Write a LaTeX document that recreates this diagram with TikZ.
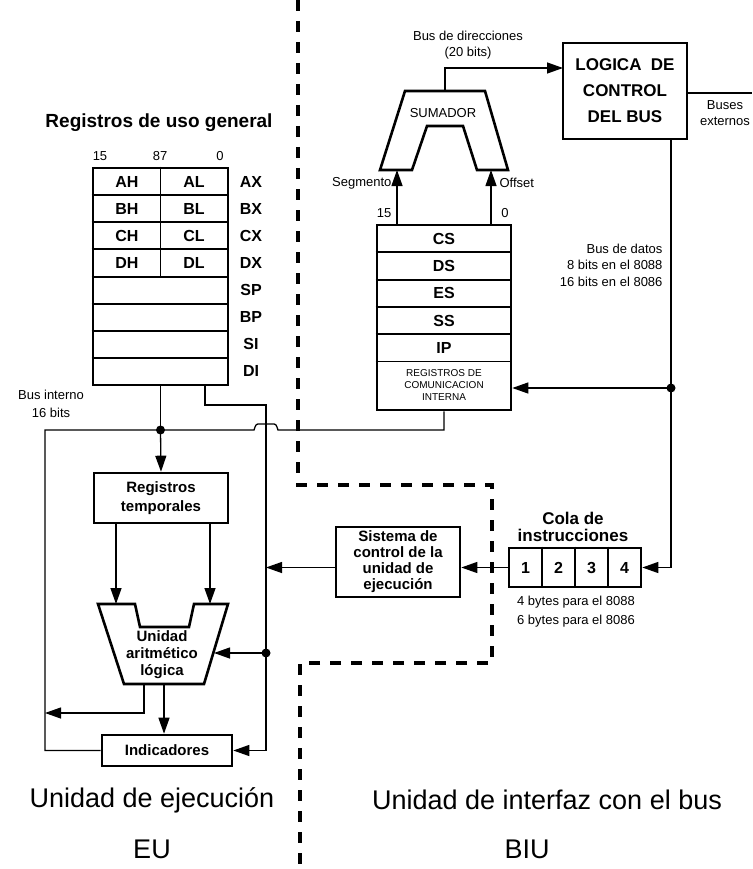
\documentclass[tikz,border=0pt]{standalone}
\usepackage{fontspec}
\setmainfont{Liberation Sans}
\usetikzlibrary{calc, arrows.meta, positioning}

\tikzset{
    bus/.style={line width=1.3pt},
    arr/.style={bus, -{Triangle[length=16pt,width=11pt]}},
    unitbox/.style={draw, line width=2.6pt, inner sep=0pt, align=center},
    rowline/.style={line width=1.8pt},
    divider/.style={line width=3.6pt, dash pattern=on 11pt off 10pt},
    junction/.style={circle, fill, inner sep=0pt, minimum size=9pt},
    small/.style={font=\fontsize{13}{16}\selectfont, align=center},
    heavy/.style={font=\bfseries\fontsize{15}{17}\selectfont, align=center},
    regname/.style={font=\bfseries\fontsize{16}{16}\selectfont},
    title/.style={font=\fontsize{27}{30}\selectfont},
}

\begin{document}
\begin{tikzpicture}[x=1pt, y=-1pt]
            \useasboundingbox (0,0) rectangle (752,869);

            \draw[divider] (298,0) -- (298,485) -- (492,485) -- (492,663) -- (300,663) -- (300,869);

            \node[font=\bfseries\fontsize{19}{20}\selectfont] (gprtitle) at (159,123) {Registros de uso general};
            \node[small] (bitH) at (100,156) {15};
            \node[small] (bitM) at (160,156) {87};
            \node[small] (bitL) at (220,156) {0};
            \node[draw, line width=2.6pt, minimum width=135pt, minimum height=217pt, inner sep=0pt] (gpr) at (160.5,276.5) {};
            \foreach \y in {195,222,249,277,304,331,358}
                \draw[rowline] (gpr.west |- 0,\y) -- (gpr.east |- 0,\y);
            \draw[rowline] (gpr.north) -- (gpr.north |- 0,277);
            \foreach \hi/\lo/\reg [count=\i] in {AH/AL/AX, BH/BL/BX, CH/CL/CX, DH/DL/DX} {
                \node[regname] (\hi) at (127,154.4+27.125*\i) {\hi};
                \node[regname] (\lo) at (194,154.4+27.125*\i) {\lo};
                \node[regname] (\reg) at (251,154.4+27.125*\i) {\reg};
            }
            \foreach \reg [count=\i from 5] in {SP,BP,SI,DI}
                \node[regname] (\reg) at (251,154.4+27.125*\i) {\reg};
            \node[font=\fontsize{13}{18}\selectfont, align=center] (intlbl) at (51,404) {Bus interno\\16 bits};

            \node[draw, line width=2.6pt, minimum width=134pt, minimum height=185pt, inner sep=0pt] (seg) at (444,317.5) {};
            \foreach \y in {252.3,279.6,306.9,334.2,361.5}
                \draw[rowline] (seg.west |- 0,\y) -- (seg.east |- 0,\y);
            \foreach \sreg [count=\i] in {CS,DS,ES,SS,IP}
                \node[regname] (\sreg) at (444,211.35+27.3*\i) {\sreg};
            \node[font=\fontsize{10}{12}\selectfont, align=center] (commlbl) at (444,385) {REGISTROS DE\\COMUNICACION\\INTERNA};

            \draw[line width=2.6pt] (405,91) -- (485,91) -- (508,170) -- (477,170) -- (463,126) -- (427,126) -- (412,170) -- (380,170) -- cycle;
            \node[small] (sum) at (443,113) {SUMADOR};
            \coordinate (sumT) at (445,91);
            \coordinate (segin) at (397,170);
            \coordinate (offin) at (491,170);
            \draw[arr] (seg.north -| segin) -- (segin);
            \draw[arr] (seg.north -| offin) -- (offin);
            \node[small, anchor=east] (seglbl) at (395,183) {Segmento};
            \node[small, anchor=west] (offlbl) at (496,183) {Offset};
            \node[small] (segbitH) at (384,213) {15};
            \node[small] (segbitL) at (505,213) {0};
            \node[small] (addrlbl) at (468,45) {Bus de direcciones\\(20 bits)};

            \node[unitbox, font=\bfseries\fontsize{17}{26}\selectfont, minimum width=124pt, minimum height=96pt] (logic) at (625,91) {LOGICA\ \ DE\\CONTROL\\DEL BUS};
            \coordinate (logicin) at (563,68);
            \draw[arr] (sumT) |- (logicin);
            \coordinate (extbus) at (752,93);
            \draw[bus] (logic.east |- extbus) -- (extbus);
            \node[small] (extlbl) at (725,113) {Buses\\externos};

            \node[draw, line width=2.6pt, minimum width=132pt, minimum height=39pt, inner sep=0pt] (queue) at (575,567.5) {};
            \foreach \x in {542,575,608}
                \draw[rowline] (queue.north -| \x,0) -- (queue.south -| \x,0);
            \foreach \q in {1,...,4}
                \node[regname] (q\q) at (492.5+33*\q,567.5) {\q};
            \node[font=\bfseries\fontsize{17}{17}\selectfont, align=center] (qtitle) at (573,527) {Cola de\\instrucciones};
            \node[font=\fontsize{13}{19}\selectfont, align=center] (qlbl) at (576,612) {4 bytes para el 8088\\6 bytes para el 8086};

            \coordinate (dbus) at (671,388);
            \draw[bus] (logic.south -| dbus) -- (dbus);
            \draw[arr] (dbus) -- (seg.east |- dbus);
            \draw[arr] (dbus) |- (queue.east);
            \node[junction] at (dbus) {};
            \node[font=\fontsize{13}{16.5}\selectfont, align=right, anchor=east] (dlbl) at (666,265) {Bus de datos\\8 bits en el 8088\\16 bits en el 8086};

            \node[unitbox, font=\bfseries\fontsize{15}{16}\selectfont, minimum width=124pt, minimum height=70pt] (ctrl) at (398,562) {Sistema de\\control de la\\unidad de\\ejecución};
            \coordinate (rtop) at (266,405);
            \draw[arr] (queue.west) -- (ctrl.east |- queue.west);
            \draw[arr] (ctrl.west |- queue.west) -- (rtop |- queue.west);

            \coordinate (idot) at (160.5,430);
            \coordinate (lcorner) at (45,430);
            \coordinate (gprR) at (205,385);
            \coordinate (aludot) at (266,653);
            \node[unitbox, font=\bfseries\fontsize{15}{19}\selectfont, minimum width=134pt, minimum height=50pt] (tmp) at (161,498) {Registros\\temporales};
            \draw[line width=2.6pt] (98,604) -- (135,604) -- (140,627) -- (189,627) -- (194,604) -- (228,604) -- (204,684) -- (124,684) -- cycle;
            \node[heavy] (alu) at (162,655) {Unidad\\aritmético\\lógica};
            \coordinate (aluinL) at (116,604);
            \coordinate (aluinR) at (210,604);
            \coordinate (aluR) at (214,653);
            \coordinate (aluoutA) at (144,684);
            \coordinate (aluoutB) at (164,684);
            \coordinate (flagtap) at (45,713);
            \node[unitbox, heavy, minimum width=130pt, minimum height=31pt] (flags) at (167,750.5) {Indicadores};

            \draw[bus] (gpr.south) -- (idot);
            \draw[arr] (idot) -- (tmp.north);
            \draw[arr] (tmp.south -| aluinL) -- (aluinL);
            \draw[arr] (tmp.south -| aluinR) -- (aluinR);
            \draw[bus] (flags.west) -| (lcorner) -- (254,430) .. controls (256,424) .. (260,424) -- (272,424) .. controls (276,424) .. (278,430) -- (seg.south |- lcorner) -- (seg.south);
            \draw[arr] (gprR) |- (rtop) |- (flags.east);
            \draw[arr] (aludot) -- (aluR);
            \draw[arr] (aluoutA) |- (flagtap);
            \draw[arr] (aluoutB) -- (flags.north -| aluoutB);
            \node[junction] at (idot) {};
            \node[junction] at (aludot) {};

            \node[title] (eutitle) at (152,800) {Unidad de ejecución};
            \node[title] (biutitle) at (547,800) {Unidad de interfaz con el bus};
            \node[title] (eu) at (152,849) {EU};
            \node[title] (biu) at (527,849) {BIU};
\end{tikzpicture}
\end{document}
